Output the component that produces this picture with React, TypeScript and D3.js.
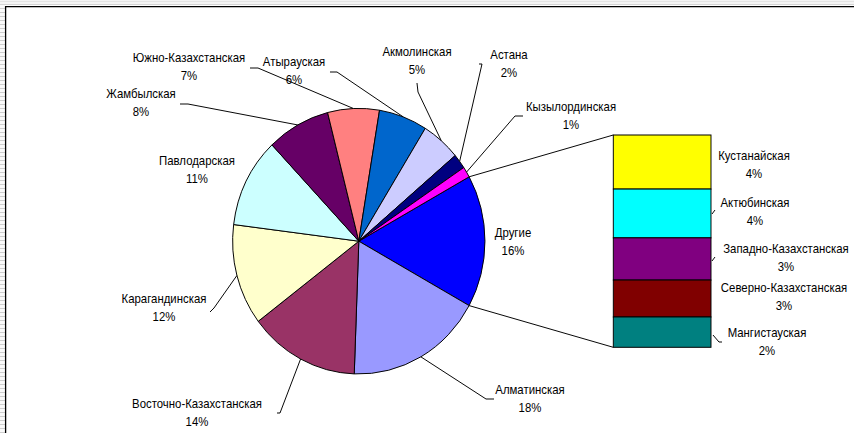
import React from 'react';
import * as d3 from 'd3';

// Picture is squeezed horizontally (pie is taller than wide), so the chart group is scaled in x.
const W = 854;
const H = 433;
const SX = 0.95;
const px = (x: number) => x / SX;

const FONT = 'Liberation Sans, Arial, sans-serif';

// main pie, clockwise after "Другие"
const mainNames = [
  'Алматинская',
  'Восточно-Казахстанская',
  'Карагандинская',
  'Павлодарская',
  'Жамбылская',
  'Южно-Казахстанская',
  'Атырауская',
  'Акмолинская',
  'Астана',
  'Кызылординская',
];
const mainValues = [17.5, 14.1, 12.3, 10.9, 8.1, 6.6, 6.2, 5.0, 1.8, 1.3];
const mainColors = ['#9999FF', '#993366', '#FFFFCC', '#CCFFFF', '#660066', '#FF8080', '#0066CC', '#CCCCFF', '#000080', '#FF00FF'];

// secondary bar ("Другие"), top to bottom
const otherLabel = 'Другие';
const otherColor = '#0000FF';
const otherNames = ['Кустанайская', 'Актюбинская', 'Западно-Казахстанская', 'Северно-Казахстанская', 'Мангистауская'];
const otherValues = [4.1, 3.7, 3.2, 2.8, 2.3];
const otherColors = ['#FFFF00', '#00FFFF', '#800080', '#800000', '#008080'];

// label placement (picture pixels: centre x, first line y)
const labelPos: Record<string, [number, number]> = {
  'Другие': [513, 232],
  'Алматинская': [530, 389],
  'Восточно-Казахстанская': [197, 403],
  'Карагандинская': [164, 298],
  'Павлодарская': [197, 160],
  'Жамбылская': [141, 93],
  'Южно-Казахстанская': [189, 57],
  'Атырауская': [294, 61],
  'Акмолинская': [417, 51],
  'Астана': [509, 54],
  'Кызылординская': [571, 106],
  'Кустанайская': [754, 155],
  'Актюбинская': [755, 202],
  'Западно-Казахстанская': [786, 248],
  'Северно-Казахстанская': [784, 287],
  'Мангистауская': [767, 332],
};

// leader line points at the label side (pie end is added from the slice angle)
const leaderPts: Record<string, [number, number][]> = {
  'Южно-Казахстанская': [[250, 68], [258, 68]],
  'Жамбылская': [[180, 104], [188, 104]],
  'Атырауская': [[330, 72], [337, 72]],
  'Акмолинская': [[417, 83], [418, 92]],
  'Астана': [[479, 64], [482, 64]],
  'Кызылординская': [[523, 116], [515, 116]],
  'Карагандинская': [[210, 312], [214, 308]],
  'Восточно-Казахстанская': [[277, 413], [280, 413]],
  'Алматинская': [[494, 399], [486, 399]],
};
const barLeaders: Record<string, [number, number][]> = {
  'Актюбинская': [[712, 214], [715, 210]],
  'Западно-Казахстанская': [[712, 261], [715, 257]],
  'Мангистауская': [[713, 335], [719, 342], [722, 342]],
};

const CX = px(358.8);
const CY = 241.2;
const R = 132.8;
const BAR_X0 = px(613.3);
const BAR_X1 = px(711);
const BAR_TOP = 135;
const BAR_BOTTOM = 347.3;

interface Slice {
  name: string;
  value: number;
  color: string;
}

export default function App() {
  const othersSum = d3.sum(otherValues);
  const slices: Slice[] = [
    { name: otherLabel, value: othersSum, color: otherColor },
    ...mainNames.map((n, i) => ({ name: n, value: mainValues[i], color: mainColors[i] })),
  ];
  const total = d3.sum(slices, (d) => d.value);
  const start = Math.PI / 2 - (othersSum / total) * Math.PI;
  const arcs = d3
    .pie<Slice>()
    .sort(null)
    .value((d) => d.value)
    .startAngle(start)
    .endAngle(start + 2 * Math.PI)(slices);
  const arc = d3.arc<d3.PieArcDatum<Slice>>().innerRadius(0).outerRadius(R);
  const onPie = (a: number): [number, number] => [CX + R * Math.sin(a), CY - R * Math.cos(a)];
  const pct = (v: number) => `${Math.round((v / total) * 100)}%`;

  const y = d3.scaleLinear().domain([0, othersSum]).range([BAR_TOP, BAR_BOTTOM]);
  const stack = otherValues.map((v, i) => {
    const y0 = d3.sum(otherValues.slice(0, i));
    return { name: otherNames[i], value: v, color: otherColors[i], y0: y(y0), y1: y(y0 + v) };
  });

  const line = d3.line();
  const others = arcs[0];

  const label = (name: string, v: number) => {
    const [lx, ly] = labelPos[name];
    return (
      <g key={`l-${name}`} fontFamily={FONT} fontSize={12} fill="#000" textAnchor="middle">
        <text x={px(lx)} y={ly} dominantBaseline="central">{name}</text>
        <text x={px(lx)} y={ly + 18} dominantBaseline="central">{pct(v)}</text>
      </g>
    );
  };

  return (
    <svg width={W} height={H} style={{ position: 'absolute', left: 0, top: 0, background: '#fff' }}>
      <defs>
        <pattern id="grid" width="6" height="4" patternUnits="userSpaceOnUse">
          <rect width="6" height="4" fill="#fafafa" />
          <line x1="0" y1="0.5" x2="6" y2="0.5" stroke="#cfcfcf" strokeWidth="1" />
        </pattern>
      </defs>
      <rect x={0} y={0} width={W} height={H} fill="#fff" />
      <rect x={0} y={0} width={5} height={H} fill="url(#grid)" />
      <rect x={0} y={0} width={W} height={5} fill="#f4f4f4" />
      <line x1={0} y1={1.5} x2={W} y2={1.5} stroke="#e4e4e4" />
      <line x1={0} y1={4.5} x2={W} y2={4.5} stroke="#d4d4d4" />
      <line x1={5} y1={6.6} x2={W} y2={6.6} stroke="#000" strokeWidth={1.3} />
      <line x1={5.6} y1={6} x2={5.6} y2={H} stroke="#000" strokeWidth={1.3} />

      <g transform={`scale(${SX},1)`}>
        {/* connectors pie -> bar */}
        <path d={line([onPie(others.startAngle), [BAR_X0, BAR_TOP]]) ?? ''} stroke="#000" strokeWidth={1} fill="none" />
        <path d={line([onPie(others.endAngle), [BAR_X0, BAR_BOTTOM]]) ?? ''} stroke="#000" strokeWidth={1} fill="none" />

        {/* pie */}
        <g transform={`translate(${CX},${CY})`}>
          {arcs.map((a) => (
            <path key={a.data.name} d={arc(a) ?? ''} fill={a.data.color} stroke="#000" strokeWidth={1} />
          ))}
        </g>

        {/* leaders */}
        {arcs
          .filter((a) => leaderPts[a.data.name])
          .map((a) => {
            const mid = (a.startAngle + a.endAngle) / 2;
            const pts = leaderPts[a.data.name].map(([x, yy]) => [px(x), yy] as [number, number]);
            return (
              <path key={`ld-${a.data.name}`} d={line([...pts, onPie(mid)]) ?? ''} stroke="#000" strokeWidth={1} fill="none" />
            );
          })}

        {/* secondary bar */}
        {stack.map((s) => (
          <rect key={s.name} x={BAR_X0} y={s.y0} width={BAR_X1 - BAR_X0} height={s.y1 - s.y0} fill={s.color} stroke="#000" strokeWidth={1} />
        ))}
        {Object.keys(barLeaders).map((k) => (
          <path
            key={`bl-${k}`}
            d={line(barLeaders[k].map(([x, yy]) => [px(x), yy] as [number, number])) ?? ''}
            stroke="#000"
            strokeWidth={1}
            fill="none"
          />
        ))}

        {arcs.map((a) => label(a.data.name, a.data.value))}
        {stack.map((s) => label(s.name, s.value))}
      </g>
    </svg>
  );
}
